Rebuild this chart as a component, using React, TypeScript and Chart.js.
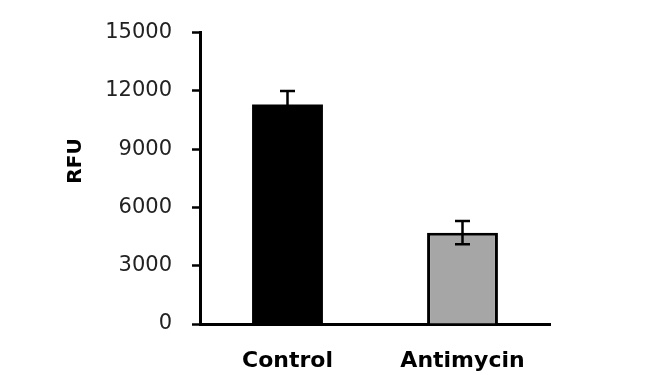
import React, { useEffect, useRef } from "react";
import { Chart, registerables } from "chart.js";

Chart.register(...registerables);

const categories = ["Control", "Antimycin"];
const means = [11300, 4700];
const errors = [700, 600];
const fills = ["#000000", "#a6a6a6"];
const borderWidths = [0, 3];
const yTicks = [0, 3000, 6000, 9000, 12000, 15000];
const yTitle = "RFU";

const FONT = "'DejaVu Sans', sans-serif";

const errorBarPlugin = {
  id: "errorBars",
  afterDatasetsDraw(chart: any) {
    const ctx = chart.ctx;
    const yScale = chart.scales.y;
    const meta = chart.getDatasetMeta(0);
    ctx.save();
    ctx.strokeStyle = "#000";
    ctx.lineWidth = 2.5;
    meta.data.forEach((bar: any, i: number) => {
      const x = bar.x;
      const top = yScale.getPixelForValue(means[i] + errors[i]);
      const bot = yScale.getPixelForValue(means[i] - errors[i]);
      const cap = 7.5;
      ctx.beginPath();
      ctx.moveTo(x, top);
      ctx.lineTo(x, bot);
      ctx.moveTo(x - cap, top);
      ctx.lineTo(x + cap, top);
      ctx.moveTo(x - cap, bot);
      ctx.lineTo(x + cap, bot);
      ctx.stroke();
    });
    ctx.restore();
  },
};

const titlePlugin = {
  id: "yTitle",
  afterDraw(chart: any) {
    const ctx = chart.ctx;
    ctx.save();
    ctx.translate(76, 161);
    ctx.rotate(-Math.PI / 2);
    ctx.font = `bold 20px ${FONT}`;
    ctx.fillStyle = "#000";
    ctx.textAlign = "center";
    ctx.textBaseline = "middle";
    ctx.fillText(yTitle, 0, 0);
    ctx.restore();
  },
};

export default function App() {
  const ref = useRef<HTMLCanvasElement | null>(null);
  useEffect(() => {
    if (!ref.current) return;
    const chart = new Chart(ref.current, {
      type: "bar",
      data: {
        labels: categories,
        datasets: [
          {
            data: means,
            backgroundColor: fills,
            borderColor: "#000",
            borderWidth: borderWidths,
            borderSkipped: "bottom",
            categoryPercentage: 1,
            barPercentage: 0.405,
          },
        ],
      },
      options: {
        responsive: false,
        animation: false,
        devicePixelRatio: 1,
        layout: { padding: { left: 0, right: 100, top: 30, bottom: 0 } },
        plugins: {
          legend: { display: false },
          tooltip: { enabled: false },
        },
        scales: {
          x: {
            grid: { display: false, drawTicks: false },
            border: { display: true, color: "#000", width: 3 },
            ticks: {
              padding: 24,
              color: "#000",
              font: { family: FONT, size: 22, weight: "bold" },
            },
            afterFit: (s: any) => {
              s.height = 51;
            },
          },
          y: {
            min: 0,
            max: 15000,
            afterBuildTicks: (s: any) => {
              s.ticks = yTicks.map((v) => ({ value: v }));
            },
            grid: {
              display: true,
              drawOnChartArea: false,
              drawTicks: true,
              tickLength: 8,
              tickWidth: 2.5,
              tickColor: "#000",
              color: "#000",
            },
            border: { display: true, color: "#000", width: 3 },
            ticks: {
              padding: 20,
              color: "#222",
              font: { family: FONT, size: 21 },
              callback: (v: any) => String(v),
            },
            afterFit: (s: any) => {
              s.width = 200;
            },
          },
        },
      },
      plugins: [errorBarPlugin, titlePlugin],
    });
    return () => chart.destroy();
  }, []);
  return (
    <canvas
      ref={ref}
      width={650}
      height={375}
      style={{ position: "fixed", left: 0, top: 0, width: 650, height: 375, display: "block", background: "#fff" }}
    />
  );
}
